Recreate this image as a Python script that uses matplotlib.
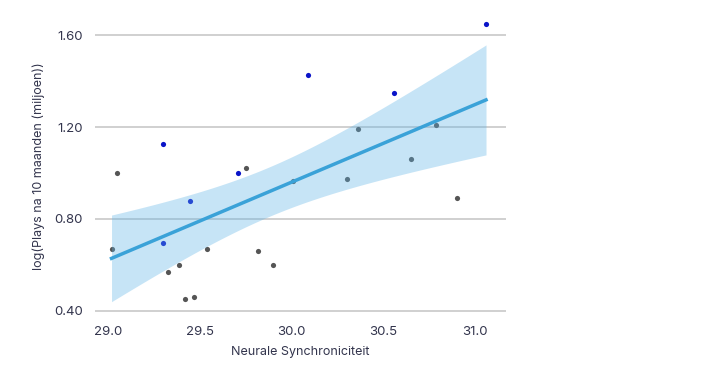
import numpy as np
import matplotlib
matplotlib.use("Agg")
import matplotlib.pyplot as plt

# Scatter data
grey_x = [29.02, 29.05, 29.33, 29.39, 29.42, 29.47, 29.54, 29.75, 29.82, 29.90,
          30.01, 30.30, 30.36, 30.65, 30.79, 30.90]
grey_y = [0.67, 1.00, 0.57, 0.60, 0.45, 0.46, 0.67, 1.02, 0.66, 0.60,
          0.965, 0.975, 1.19, 1.06, 1.21, 0.89]
blue_x = [29.30, 29.30, 29.445, 29.71, 30.09, 30.56, 31.06]
blue_y = [1.125, 0.695, 0.88, 1.00, 1.425, 1.35, 1.65]

y_ticks = [0.40, 0.80, 1.20, 1.60]
x_ticks = [29.0, 29.5, 30.0, 30.5, 31.0]

text_col = "#33354d"
plt.rcParams['font.family'] = ['Inter', 'DejaVu Sans']

# linear fit over all points, with 95% confidence band
x_all = np.array(grey_x + blue_x)
y_all = np.array(grey_y + blue_y)
n = len(x_all)
slope, intercept = np.polyfit(x_all, y_all, 1)
resid = y_all - (slope * x_all + intercept)
s = np.sqrt(np.sum(resid ** 2) / (n - 2))
xs = np.linspace(x_all.min(), x_all.max(), 100)
ys = slope * xs + intercept
se = s * np.sqrt(1 / n + (xs - x_all.mean()) ** 2 / np.sum((x_all - x_all.mean()) ** 2))
t_val = 2.08
lo = ys - t_val * se
hi = ys + t_val * se

fig = plt.figure(figsize=(7.09, 3.65), dpi=100)
ax = fig.add_axes([0.134, 0.142, 0.580, 0.806])

ax.scatter(grey_x, grey_y, s=14, color="#555555", zorder=3, linewidths=0)
ax.scatter(blue_x, blue_y, s=14, color="#0a14c8", zorder=3, linewidths=0)
ax.fill_between(xs, lo, hi, color="#5db3e6", alpha=0.35, linewidth=0, zorder=4)
ax.plot(xs, ys, color="#3aa2d8", linewidth=2.5, zorder=5)

ax.set_xlim(28.93, 31.17)
ax.set_ylim(0.39, 1.67)
ax.set_yticks(y_ticks)
ax.set_yticklabels([f"{v:.2f}" for v in y_ticks])
ax.set_xticks(x_ticks)
ax.set_xticklabels([f"{v:.1f}" for v in x_ticks])
ax.grid(axis='y', color="#c8c8c8", linewidth=1.2, zorder=1)
ax.set_axisbelow(True)
for sp in ax.spines.values():
    sp.set_visible(False)
ax.tick_params(length=0, labelsize=9.5, colors=text_col, pad=9)

ax.set_xlabel("Neurale Synchroniciteit", fontsize=9, color=text_col, labelpad=6)
ax.set_ylabel("log(Plays na 10 maanden (miljoen))", fontsize=9, color=text_col, labelpad=6)

fig.savefig("out.png", dpi=100)
